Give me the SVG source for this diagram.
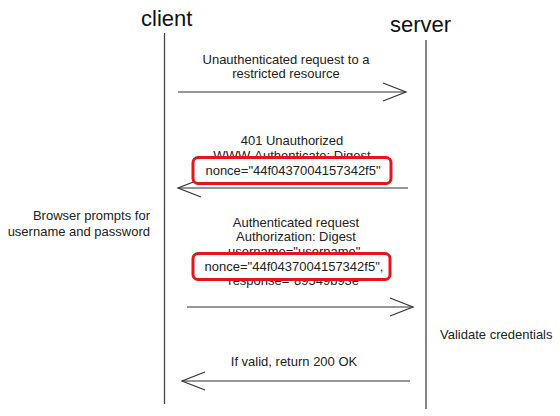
<svg xmlns="http://www.w3.org/2000/svg" width="560" height="416" viewBox="0 0 560 416">
<defs>
<style>
text{font-family:"Liberation Sans",Arial,sans-serif;fill:#222;}
.t{font-size:13px;text-anchor:middle;}
.h{font-size:22px;fill:#111;}
.life{stroke:#444;stroke-width:1.3;fill:none;}
.msg{stroke:#333;stroke-width:1.2;fill:none;marker-end:url(#ah);}
.hl{fill:#fff;stroke:#e8141c;stroke-width:3;}
</style>
<marker id="ah" markerUnits="userSpaceOnUse" markerWidth="26" markerHeight="22" refX="24" refY="10" orient="auto" viewBox="0 0 26 22">
<path d="M1,1 L24,10 L1,19" fill="none" stroke="#333" stroke-width="1.2"/>
</marker>
</defs>
<rect width="560" height="416" fill="#fff"/>
<g id="client">
<text class="h" x="141" y="26">client</text>
<line class="life" x1="164.5" y1="33" x2="164.5" y2="404"/>
</g>
<g id="server">
<text class="h" x="390" y="32">server</text>
<line class="life" x1="426" y1="40" x2="426" y2="409"/>
</g>
<g id="connectors">
<line class="msg" x1="178" y1="92" x2="406" y2="92"/>
<line class="msg" x1="408" y1="188" x2="178" y2="188"/>
<line class="msg" x1="187" y1="307" x2="413" y2="307"/>
<line class="msg" x1="410" y1="381" x2="182" y2="381"/>
</g>
<g id="msg1">
<text class="t" x="286" y="64">Unauthenticated request to a</text>
<text class="t" x="286" y="78">restricted resource</text>
</g>
<g id="msg2">
<text class="t" x="292" y="145">401 Unauthorized</text>
<text class="t" x="292" y="160">WWW-Authenticate: Digest</text>
<rect class="hl" x="193" y="157.5" width="198" height="26" rx="5"/>
<text class="t" x="293" y="175">nonce="44f0437004157342f5"</text>
</g>
<g id="msg3">
<text class="t" x="296" y="227">Authenticated request</text>
<text class="t" x="296" y="241">Authorization: Digest</text>
<text class="t" x="296" y="256">username="username",</text>
<text class="t" x="296" y="285">response="89549b93e"</text>
<rect class="hl" x="193" y="253.5" width="197" height="26" rx="5"/>
<text class="t" x="294" y="271">nonce="44f0437004157342f5",</text>
</g>
<g id="browser-prompt">
<text class="t" x="150" y="220" style="text-anchor:end">Browser prompts for</text>
<text class="t" x="150" y="236" style="text-anchor:end">username and password</text>
</g>
<g id="validate">
<text class="t" x="440" y="339" style="text-anchor:start">Validate credentials</text>
</g>
<g id="msg4">
<text class="t" x="294" y="366">If valid, return 200 OK</text>
</g>
</svg>
